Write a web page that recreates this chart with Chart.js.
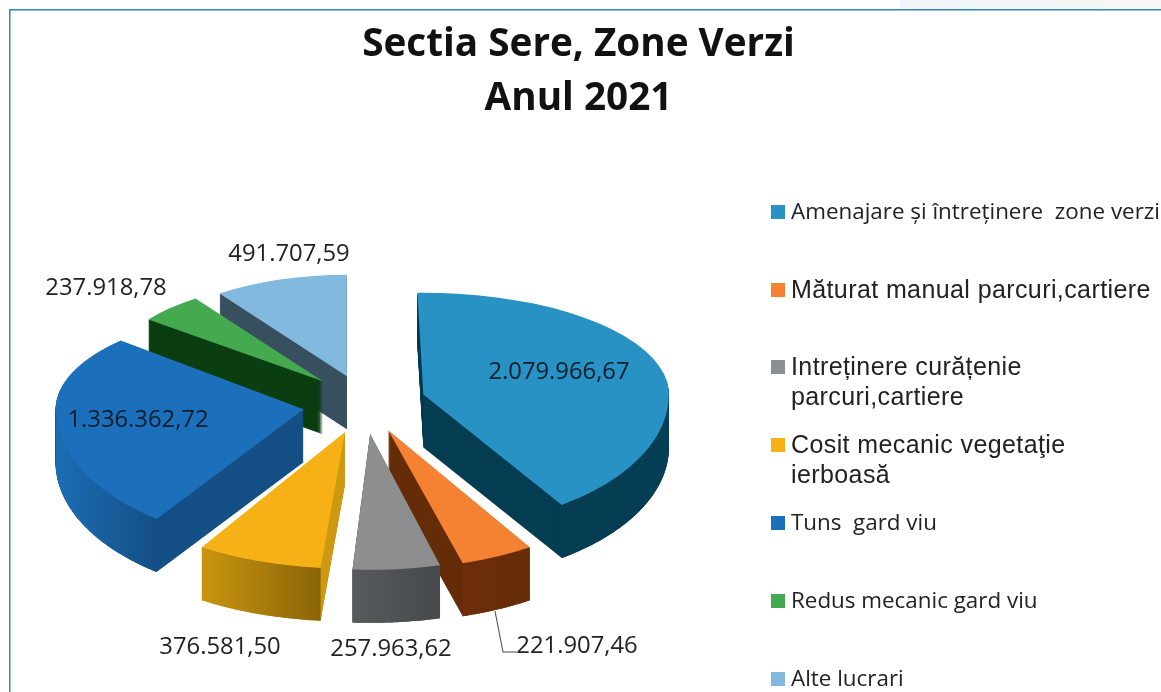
<!DOCTYPE html>
<html><head><meta charset="utf-8">
<style>html,body{margin:0;padding:0;background:#fff;overflow:hidden}#wrap{width:1161px;height:692px;position:relative}</style>
<script src="https://cdn.jsdelivr.net/npm/chart.js@4"></script>
</head><body><div id="wrap"><canvas id="c" width="1161" height="692"></canvas></div>
<script>
const categories = ["Amenajare și întreținere  zone verzi","Măturat manual parcuri,cartiere","Intreținere curățenie parcuri,cartiere","Cosit mecanic vegetaţie ierboasă","Tuns  gard viu","Redus mecanic gard viu","Alte lucrari"];
const values = [2079966.67,221907.46,257963.62,376581.50,1336362.72,237918.78,491707.59];
const titleLines = ["Sectia Sere, Zone Verzi","Anul 2021"];
const legendLines = [["Amenajare și întreținere  zone verzi"],["Măturat manual parcuri,cartiere"],["Intreținere curățenie","parcuri,cartiere"],["Cosit mecanic vegetaţie","ierboasă"],["Tuns  gard viu"],["Redus mecanic gard viu"],["Alte lucrari"]];
// styles
const topColors = ["#2792C3","#F58133","#8D8E90","#F5B116","#1C6FBA","#45AA4F","#83B9DF"];
const wallColors = ["#053D52","#652D08","#4F5254","#CF9A14","#144F85","#0B3F12","#38505F"];
const rimStops = [["#053D52","#053F55"],["#6E2E0A","#652D08"],["#585B5D","#46494B"],["#C9940F","#8A6408"],["#1C6DB4","#144F85"],["#0B3F12","#0B3F12"],["#38505F","#38505F"]];
const explode = [61,62,64,64,62,60,58];
const liftY = [2,0,0,0,4,0,0];
const twistBackDeg = [-1.4,-2,-.5,1,5,0,0];
const twistFrontDeg = [-4,-2,-.5,1,5,0,0];
const frontK = [.54,.56,.55,.55,.55,.55,.55];
const widthMul = [.99,1.07,1.1,1.08,1,.887,.887];
const labelPos = [[559,372],[577,646],[391,649],[220,647],[138,420],[106,288],[289,254]];
const legendY = [212,290,367,445,523,601,679];
const sansA = '22.4px "Open Sans"', sansB = '25px "Liberation Sans"';
const legendFonts = [sansA,sansB,sansB,sansB,sansA,sansA,sansA];
const pieX = 364.5, pieY = 399;
const kBack = 0.41, kBase = 0.54, depth = 53;
const labelFont = '23.8px "Open Sans"';
const fmt = v => { const [i,d] = v.toFixed(2).split('.'); return i.replace(/\B(?=(\d{3})+$)/g,'.') + ',' + d; };

const pie3d = {
  id:'pie3d',
  beforeDraw(chart){
    const ctx = chart.ctx; ctx.save();
    ctx.fillStyle='#fff'; ctx.fillRect(0,0,1161,692);
    const g = ctx.createLinearGradient(900,0,1161,0);
    g.addColorStop(0,'#EFF5FA'); g.addColorStop(.7,'#F3F5F6'); g.addColorStop(1,'#F8F6F3');
    ctx.fillStyle=g; ctx.fillRect(900,0,261,9);
    ctx.fillStyle='#2F86C1'; ctx.fillRect(9,9,1152,1.5); ctx.fillRect(9,9,1.5,683);
    ctx.restore();
  },
  beforeDatasetsDraw(chart){
    const ctx = chart.ctx, arcs = chart.getDatasetMeta(0).data;
    const order = arcs.map((a,i)=>i).sort((p,q)=>Math.sin((arcs[p].startAngle+arcs[p].endAngle)/2)-Math.sin((arcs[q].startAngle+arcs[q].endAngle)/2));
    for(const i of order){
      const el = arcs[i], mid=(el.startAngle+el.endAngle)/2, R=el.outerRadius, kF=frontK[i], m=widthMul[i];
      const twB=twistBackDeg[i]*Math.PI/180, twF=twistFrontDeg[i]*Math.PI/180;
      const ax = pieX+Math.cos(mid)*explode[i];
      const ay = pieY+Math.sin(mid)*explode[i]*(Math.sin(mid)>0?kBase:kBack)+liftY[i];
      const a0 = el.startAngle+(Math.sin(el.startAngle)>0?twF:twB), a1 = el.endAngle+(Math.sin(el.endAngle)>0?twF:twB);
      const pt = (a,d)=>{const s=Math.sin(a);return [ax+m*R*Math.cos(a), ay+d+R*s*(s>0?kF:kBack)];};
      ctx.fillStyle = wallColors[i];
      for(let d=depth;d>=1;d--){
        ctx.beginPath(); ctx.moveTo(ax,ay+d);
        for(let a=a0;a<a1;a+=0.01){const p=pt(a,d);ctx.lineTo(p[0],p[1]);}
        const e=pt(a1,d);ctx.lineTo(e[0],e[1]);ctx.closePath();ctx.fill();
      }
      const r0=Math.max(a0,0), r1=Math.min(a1,Math.PI);
      if(r1>r0){
        const front=[],back=[];
        for(let a=r0;a<r1;a+=0.01){front.push(pt(a,0));back.push(pt(a,depth));}
        front.push(pt(r1,0));back.push(pt(r1,depth));
        const xs=front.map(p=>p[0]), g=ctx.createLinearGradient(Math.min(...xs),0,Math.max(...xs),0);
        g.addColorStop(0,rimStops[i][0]);g.addColorStop(1,rimStops[i][1]);
        ctx.fillStyle=g;ctx.beginPath();
        front.forEach((p,n)=>n?ctx.lineTo(p[0],p[1]):ctx.moveTo(p[0],p[1]));
        back.reverse().forEach(p=>ctx.lineTo(p[0],p[1]));
        ctx.closePath();ctx.fill();
      }
      [[ay-1000,1000.5,kBack,twB],[ay-.5,1000,kF,twF]].forEach(([y,h,k,tw])=>{
        ctx.save();ctx.beginPath();ctx.rect(0,y,1161,h);ctx.clip();
        ctx.translate(ax,ay);ctx.scale(m,k);ctx.rotate(tw);ctx.translate(-el.x,-el.y);
        el.draw(ctx);ctx.restore();
      });
    }
    return false;
  },
  afterDraw(chart){
    const ctx=chart.ctx;
    ctx.save();
    ctx.font=labelFont;ctx.textAlign='center';ctx.textBaseline='middle';
    values.forEach((v,i)=>{ctx.fillStyle=(i===0||i===4)?'#0B1E2C':'#222';ctx.fillText(fmt(v),labelPos[i][0],labelPos[i][1]);});
    ctx.strokeStyle='#444';ctx.lineWidth=1;ctx.beginPath();ctx.moveTo(495,611);ctx.lineTo(503,652);ctx.lineTo(517,652);ctx.stroke();
    ctx.textAlign='left';
    legendLines.forEach((lines,i)=>{
      ctx.fillStyle=topColors[i];ctx.fillRect(771,legendY[i]-7,14,14);
      ctx.fillStyle='#222';ctx.font=legendFonts[i];
      ctx.letterSpacing = legendFonts[i]===sansB ? '0.4px' : '0px';
      lines.forEach((t,n)=>ctx.fillText(t,791,legendY[i]+1+n*30));
    });
    ctx.restore();
  }
};
new Chart(document.getElementById('c'),{
  type:'pie',
  data:{labels:categories,datasets:[{data:values,backgroundColor:topColors,borderWidth:0}]},
  options:{
    responsive:false,animation:false,radius:248,
    layout:{padding:{right:4}},
    plugins:{
      legend:{display:false},tooltip:{enabled:false},
      title:{display:true,text:titleLines,color:'#111',fullSize:true,font:{family:'"Open Sans"',size:38.7,weight:'bold',lineHeight:1.395},padding:{top:18,bottom:10}}
    }
  },
  plugins:[pie3d]
});
</script></body></html>
